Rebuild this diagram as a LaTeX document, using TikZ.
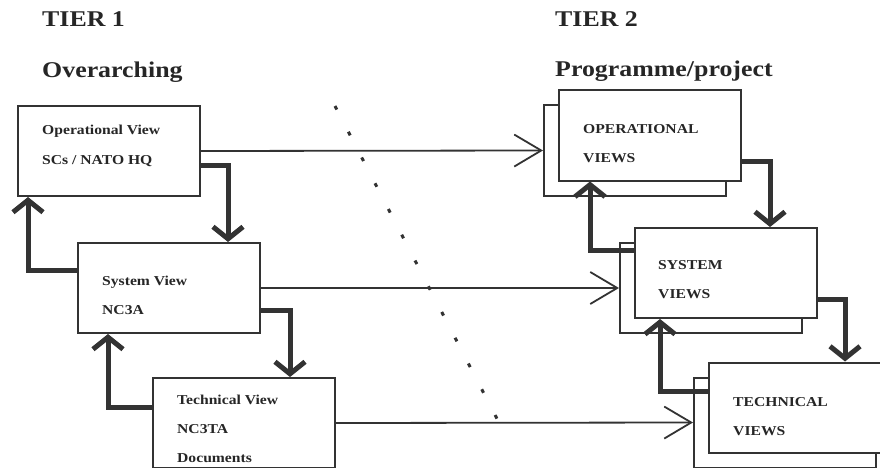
\documentclass[tikz,border=0pt]{standalone}
\usepackage{fontspec}
\setmainfont{Liberation Serif}[FakeStretch=1.15]
\usetikzlibrary{arrows.meta,positioning}

\begin{document}
\begin{tikzpicture}
[x=1pt,y=-1pt,
%
view/.style={shape=rectangle,draw=black!80,line width=2pt,fill=white,
  minimum width=182pt,minimum height=90pt,inner sep=0pt},
viewtext/.style={anchor=base west,align=left,inner sep=0pt,text=black!85,
  font=\fontsize{13.6}{29}\selectfont\bfseries},
tier/.style={anchor=base west,inner sep=0pt,text=black!85,
  font=\fontsize{22.5}{27}\selectfont\bfseries},
%
link/.style={draw=black!80,line width=1.8pt,-{Straight Barb[length=27pt,width=32pt]}},
flow/.style={draw=black!80,line width=5pt,-{Straight Barb[length=12pt,width=30pt]}},
divider/.style={draw=black!80,line width=3pt,dash pattern=on 4pt off 25pt}]
%
\useasboundingbox (0,0) rectangle (880,468);
%
%% titles
\node (tier1) [tier] at (42,27) {TIER 1};
\node (over) [tier] at (42,78) {Overarching};
\node (tier2) [tier] at (555,27) {TIER 2};
\node (prog) [tier] at (555,77) {Programme/project};
%
%% tier 1 views
\node (op) [view] at (109,151) {};
\node (sys) [view] at (169,288) {};
\node (tech) [view] at (244,423) {};
%
%% tier 2 views (shadow box first)
\foreach \n/\x/\y in {opv/650/135.5,sysv/726/273,techv/800/407.5}{
  \node (\n b) [view] at (\x-15,\y+15) {};
  \node (\n) [view] at (\x,\y) {};
}
%
%% texts (placed at the baseline of the last line)
\node (optxt) [viewtext] at (42,164) {Operational View\\SCs / NATO HQ};
\node (systxt) [viewtext] at (102,314) {System View\\NC3A};
\node (techtxt) [viewtext] at (177,462) {Technical View\\NC3TA\\Documents};
\node (opvtxt) [viewtext] at (583,162) {OPERATIONAL\\VIEWS};
\node (sysvtxt) [viewtext] at (658,298) {SYSTEM\\VIEWS};
\node (techvtxt) [viewtext] at (733,435) {TECHNICAL\\VIEWS};
%
%% dividing line
\coordinate (d1) at (335,106);
\coordinate (d2) at (508,440);
\draw[divider] (d1) -- (d2);
%
%% tier 1 to tier 2
\draw[link] (op.east) -- (opvb.west);
\draw[link] (sys.east) -- (sysvb.west);
\draw[link] (tech.east) -- (techvb.west);
%
%% tier 1 loop
\draw[flow] ([yshift=-14pt]op.east) -| ([xshift=59pt]sys.north);
\draw[flow] ([yshift=18pt]sys.west) -| ([xshift=-81pt]op.south);
\draw[flow] ([yshift=-22pt]sys.east) -| ([xshift=46pt]tech.north);
\draw[flow] ([yshift=16pt]tech.west) -| ([xshift=-61pt]sys.south);
%
%% tier 2 loop
\draw[flow] ([yshift=-25.5pt]opv.east) -| ([xshift=44pt]sysv.north);
\draw[flow] ([yshift=23pt]sysv.west) -| ([xshift=-60pt]opv.south);
\draw[flow] ([yshift=-26pt]sysv.east) -| ([xshift=45pt]techv.north);
\draw[flow] ([yshift=16.5pt]techv.west) -| ([xshift=-66pt]sysv.south);
\end{tikzpicture}
\end{document}
